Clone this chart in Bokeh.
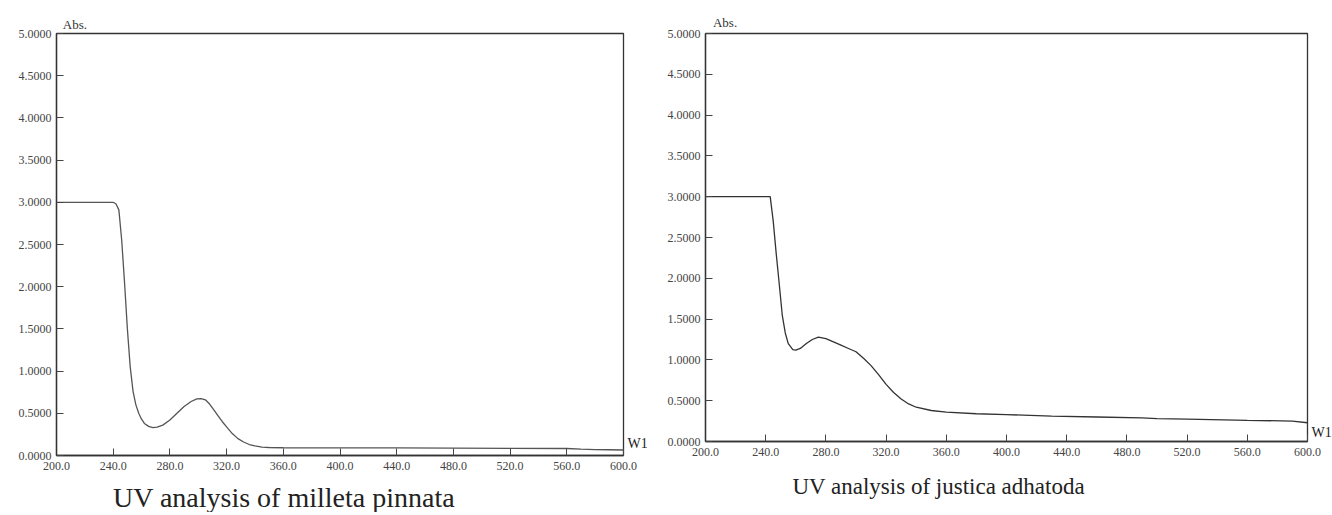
from bokeh.plotting import figure
from bokeh.layouts import row
from bokeh.models import Range1d, FixedTicker, PrintfTickFormatter, LinearAxis
from bokeh.embed import file_html
from bokeh.resources import INLINE

# ---- data ----
x_ticks = [200, 240, 280, 320, 360, 400, 440, 480, 520, 560, 600]
y_ticks = [0.0, 0.5, 1.0, 1.5, 2.0, 2.5, 3.0, 3.5, 4.0, 4.5, 5.0]

wl_mp = [200, 220, 240, 242, 244, 246, 248, 250, 252, 254, 256, 258, 260, 262, 265, 268, 271, 275,
         280, 285, 290, 295, 299, 302, 305, 308, 311, 314, 317, 320, 324, 328, 332, 336, 340, 345,
         350, 360, 380, 400, 440, 480, 520, 560, 570, 580, 590, 600]
abs_mp = [3.0, 3.0, 3.0, 2.98, 2.91, 2.55, 2.05, 1.5, 1.05, 0.76, 0.6, 0.5, 0.43, 0.38, 0.345,
          0.33, 0.335, 0.36, 0.42, 0.5, 0.58, 0.64, 0.67, 0.675, 0.66, 0.61, 0.54, 0.47, 0.4, 0.34,
          0.26, 0.2, 0.16, 0.13, 0.115, 0.1, 0.095, 0.092, 0.09, 0.09, 0.09, 0.088, 0.085, 0.083,
          0.075, 0.07, 0.068, 0.065]

wl_ja = [200, 220, 240, 243, 245, 247, 249, 251, 253, 255, 258, 260, 263, 267, 271, 275, 280, 285,
         290, 295, 300, 305, 310, 315, 320, 325, 330, 335, 340, 350, 360, 380, 400, 430, 460, 490,
         500, 520, 560, 590, 600]
abs_ja = [3.0, 3.0, 3.0, 3.0, 2.7, 2.3, 1.93, 1.55, 1.33, 1.2, 1.125, 1.12, 1.14, 1.2, 1.25, 1.28,
          1.26, 1.22, 1.18, 1.14, 1.1, 1.02, 0.93, 0.82, 0.7, 0.6, 0.52, 0.46, 0.42, 0.38, 0.36,
          0.34, 0.33, 0.31, 0.3, 0.29, 0.28, 0.275, 0.26, 0.25, 0.23]

title_mp = "UV analysis of milleta  pinnata"
title_ja = "UV analysis of justica adhatoda"
y_label = "Abs."
x_label = "W1"

SERIF = "Liberation Serif"


def text_axis(p, side, pos, text, size, standoff, color="#222222", y_axis=False):
    ax = LinearAxis(ticker=FixedTicker(ticks=[pos]), major_label_overrides={pos: text})
    ax.axis_line_color = None
    ax.major_tick_line_color = None
    ax.minor_tick_line_color = None
    ax.major_tick_in = 0
    ax.major_tick_out = 0
    ax.major_label_standoff = standoff
    ax.major_label_text_font = SERIF
    ax.major_label_text_font_size = size
    ax.major_label_text_color = color
    if y_axis:
        ax.major_label_orientation = "horizontal"
    p.add_layout(ax, side)
    return ax


def make_panel(wl, ab, title, fw, fh, bl, br, bt, bb, line_color, title_x, title_size,
               title_standoff, abs_x, abs_standoff, w1_y):
    p = figure(frame_width=fw, frame_height=fh, min_border_left=bl, min_border_right=br,
               min_border_top=bt, min_border_bottom=bb, output_backend="svg",
               toolbar_location=None, x_range=Range1d(200, 600), y_range=Range1d(0, 5))
    p.background_fill_color = "white"
    p.border_fill_color = "white"
    p.outline_line_color = "#333333"
    p.outline_line_width = 1.3
    p.xgrid.visible = False
    p.ygrid.visible = False
    p.line(wl, ab, line_color=line_color, line_width=1.3)

    p.xaxis.ticker = FixedTicker(ticks=x_ticks)
    p.yaxis.ticker = FixedTicker(ticks=y_ticks)
    p.xaxis.formatter = PrintfTickFormatter(format="%.1f")
    p.yaxis.formatter = PrintfTickFormatter(format="%.4f")
    for ax in (p.xaxis, p.yaxis):
        ax.axis_line_color = "#333333"
        ax.axis_line_width = 1.3
        ax.major_tick_in = 7
        ax.major_tick_out = 0
        ax.major_tick_line_color = "#444444"
        ax.minor_tick_line_color = None
        ax.major_label_text_font = SERIF
        ax.major_label_text_font_size = "12px"
        ax.major_label_text_color = "#444444"
    p.xaxis.major_label_standoff = 6
    p.yaxis.major_label_standoff = 5

    text_axis(p, "above", abs_x, y_label, "13px", abs_standoff, "#333333")
    text_axis(p, "right", w1_y, x_label, "14px", 4, "#222222", y_axis=True)
    text_axis(p, "below", title_x, title, title_size, title_standoff)
    return p


p1 = make_panel(wl_mp, abs_mp, title_mp, 567, 422, 56, 37, 30, 55, "#555555",
                363, "28px", 9, 213, 2, 0.142)
p2 = make_panel(wl_ja, abs_ja, title_ja, 602, 408, 45, 22, 33, 66, "#333333",
                355, "23px", 15, 213, 4, 0.11)

layout = row(p1, p2)
open("out.html", "w").write(file_html(layout, INLINE))
